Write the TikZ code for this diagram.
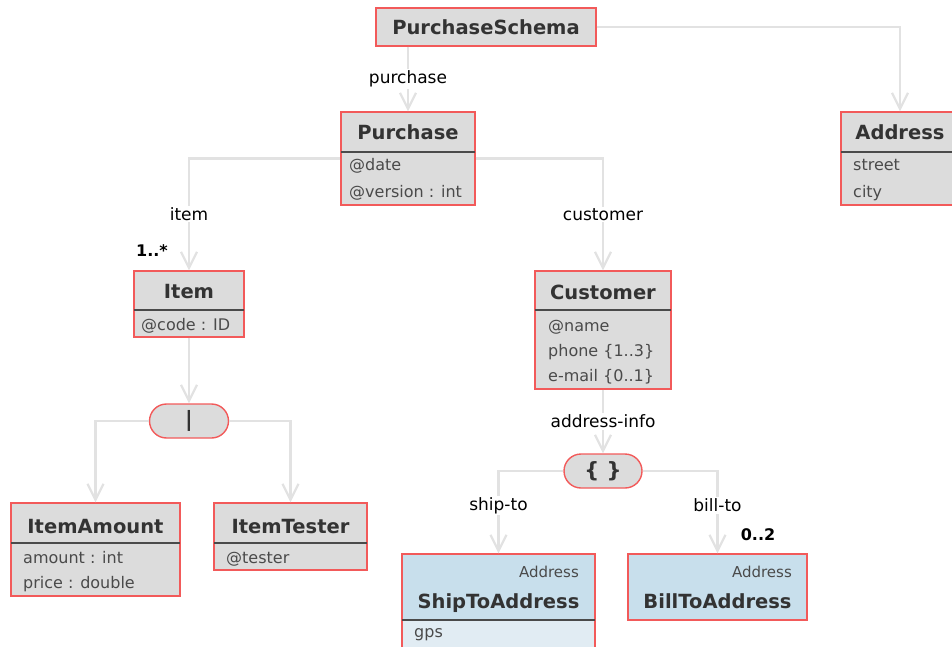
\documentclass[tikz,border=0pt]{standalone}
\usepackage{fontspec}
\setmainfont{DejaVu Sans}
\usepackage{tikz}
\usetikzlibrary{arrows.meta}
\usetikzlibrary{shapes.misc}

\definecolor{boxred}{HTML}{F25A5A}
\definecolor{boxgray}{HTML}{DCDCDC}
\definecolor{linegray}{HTML}{E2E2E2}
\definecolor{txtdark}{HTML}{333333}
\definecolor{txtattr}{HTML}{4A4A4A}
\definecolor{hdrblue}{HTML}{C8DFEC}
\definecolor{attrblue}{HTML}{E1ECF3}

\begin{document}
\begin{tikzpicture}[x=1pt, y=-1pt,
    cls/.style={draw=boxred, fill=boxgray, line width=1.4pt, inner sep=0pt},
    blue/.style={cls, fill=hdrblue},
    pill/.style={rounded rectangle, draw=boxred, fill=boxgray, line width=1.4pt,
      inner sep=0pt, minimum height=34pt, text=txtdark,
      font=\fontsize{21}{24}\selectfont\bfseries},
    ttl/.style={anchor=base, inner sep=0pt, text=txtdark,
      font=\fontsize{19.5}{22}\selectfont\bfseries},
    attr/.style={anchor=base west, inner sep=0pt, text=txtattr,
      font=\fontsize{16}{19}\selectfont},
    kind/.style={anchor=base east, inner sep=0pt, text=txtattr,
      font=\fontsize{15}{18}\selectfont},
    sep/.style={draw=txtattr, line width=1.2pt},
    conn/.style={draw=linegray, line width=2.2pt,
      -{Straight Barb[length=16pt,width=16pt]}},
    lbl/.style={fill=white, inner sep=1.5pt, text=black,
      font=\fontsize{17}{20}\selectfont},
    mult/.style={anchor=base, inner sep=0pt, text=black,
      font=\fontsize{16}{19}\selectfont\bfseries}]
  \useasboundingbox (0,0) rectangle (952,647);

  \node[cls, minimum width=220pt, minimum height=38pt] (schema) at (486,27) {};
  \node[ttl] (schema-t) at (486,35) {PurchaseSchema};

  \node[cls, minimum width=134pt, minimum height=93pt] (purchase) at (408,158.5) {};
  \node[ttl] (purchase-t) at (408,140) {Purchase};
  \draw[sep] (341,152) -- (475,152);
  \foreach \y/\txt [count=\k] in {171/@date, 197/{@version : int}}
    \node[attr] (purchase-a\k) at (349,\y) {\txt};

  \node[cls, minimum width=118pt, minimum height=93pt] (address) at (900,158.5) {};
  \node[ttl] (address-t) at (900,140) {Address};
  \draw[sep] (841,152) -- (959,152);
  \foreach \y/\txt [count=\k] in {171/street, 197/city}
    \node[attr] (address-a\k) at (853,\y) {\txt};

  \node[cls, minimum width=110pt, minimum height=66pt] (item) at (189,304) {};
  \node[ttl] (item-t) at (189,298) {Item};
  \draw[sep] (134,310) -- (244,310);
  \node[attr] (item-a1) at (141,330) {@code : ID};

  \node[cls, minimum width=136pt, minimum height=118pt] (customer) at (603,330) {};
  \node[ttl] (customer-t) at (603,299) {Customer};
  \draw[sep] (535,310) -- (671,310);
  \foreach \y/\txt [count=\k] in {331/@name, 356/{phone \{1..3\}}, 381/{e-mail \{0..1\}}}
    \node[attr] (customer-a\k) at (548,\y) {\txt};

  \node[pill, minimum width=79pt] (choice) at (189,421) {|};
  \node[pill, minimum width=78pt] (seq) at (603,471) {\{ \}};

  \node[cls, minimum width=169pt, minimum height=93pt] (amount) at (95.5,549.5) {};
  \node[ttl] (amount-t) at (95.5,533) {ItemAmount};
  \draw[sep] (11,543) -- (180,543);
  \foreach \y/\txt [count=\k] in {563/{amount : int}, 588/{price : double}}
    \node[attr] (amount-a\k) at (23,\y) {\txt};

  \node[cls, minimum width=153pt, minimum height=67pt] (tester) at (290.5,536.5) {};
  \node[ttl] (tester-t) at (290.5,533) {ItemTester};
  \draw[sep] (214,543) -- (367,543);
  \node[attr] (tester-a1) at (226,563) {@tester};

  \node[blue, minimum width=193pt, minimum height=66pt] (shipto) at (498.5,587) {};
  \draw[draw=boxred, fill=attrblue, line width=1.4pt] (402,620) rectangle (595,665);
  \draw[sep] (402,620) -- (595,620);
  \node[kind] (shipto-k) at (579,577) {Address};
  \node[ttl] (shipto-t) at (498.5,608) {ShipToAddress};
  \node[attr] (shipto-a1) at (414,637) {gps};

  \node[blue, minimum width=179pt, minimum height=66pt] (billto) at (717.5,587) {};
  \node[kind] (billto-k) at (792,577) {Address};
  \node[ttl] (billto-t) at (717.5,608) {BillToAddress};

  \draw[conn] (schema.south -| purchase.north) -- node[lbl] {purchase} (purchase.north);
  \draw[conn] (schema.east) -| (address.north);
  \draw[conn] (purchase.west) -| node[lbl, pos=0.75] {item} (item.north);
  \draw[conn] (purchase.east) -| node[lbl, pos=0.75] {customer} (customer.north);
  \draw[conn] (item.south) -- (choice.north);
  \draw[conn] (choice.west) -| (amount.north);
  \draw[conn] (choice.east) -| (tester.north);
  \draw[conn] (customer.south) -- node[lbl] {address-info} (seq.north);
  \draw[conn] (seq.west) -| node[lbl, pos=0.71] {ship-to} (shipto.north);
  \draw[conn] (seq.east) -| node[lbl, pos=0.71] {bill-to} (billto.north);

  \node[mult] (item-m) at (152,256) {1..*};
  \node[mult] (billto-m) at (758,540) {0..2};
\end{tikzpicture}
\end{document}
